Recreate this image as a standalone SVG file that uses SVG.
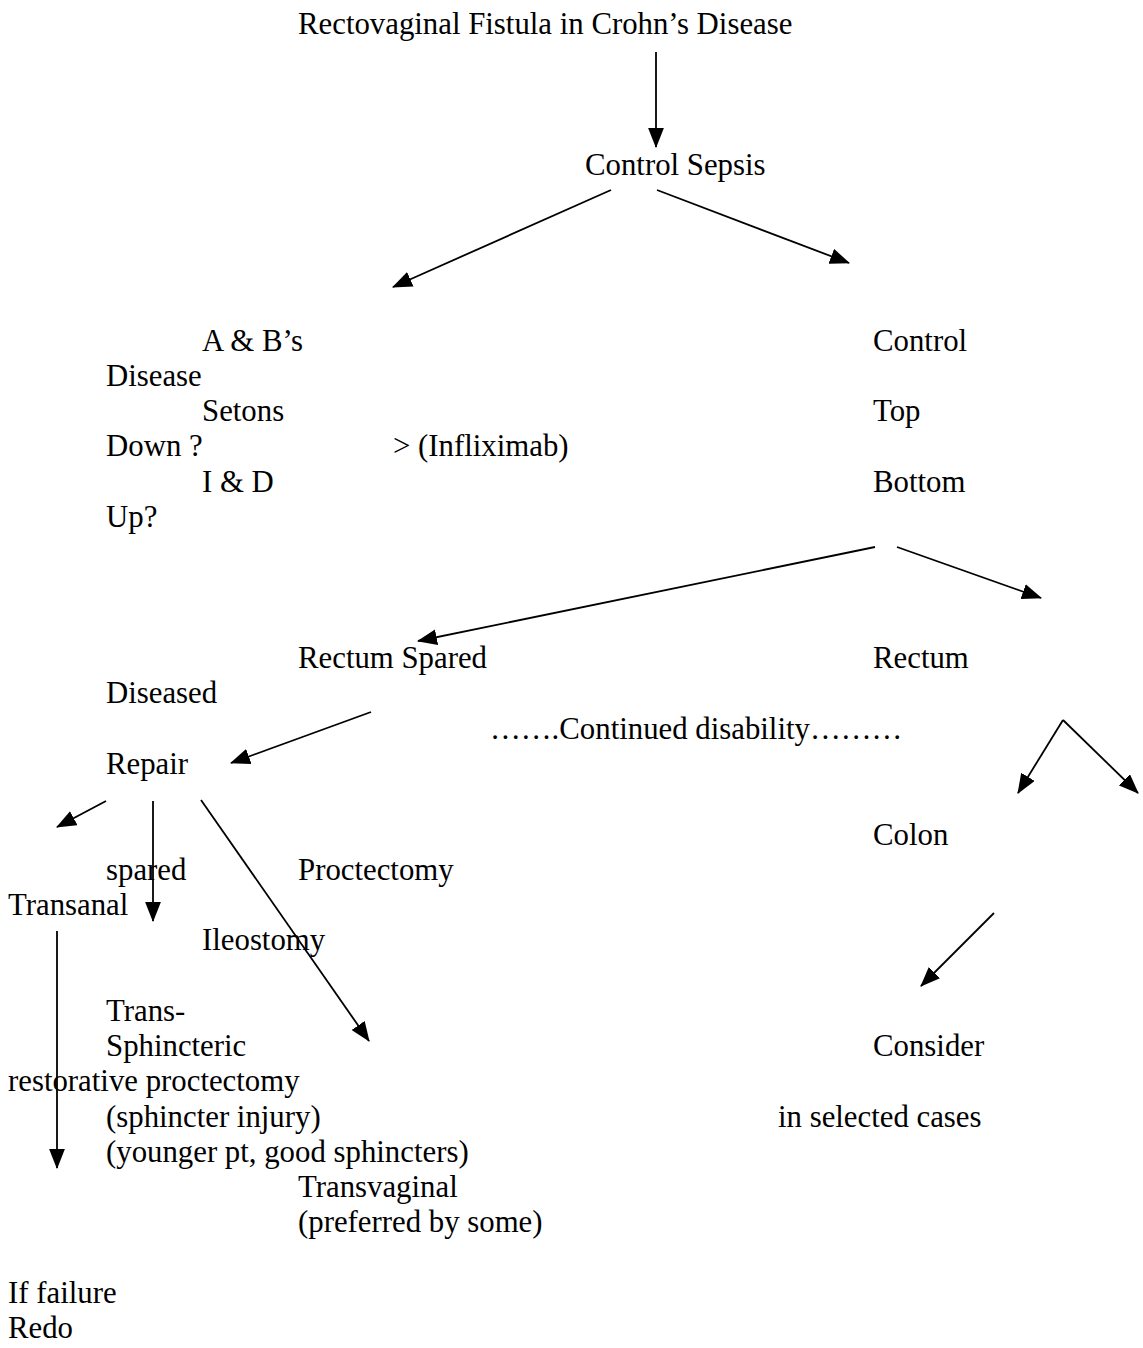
<svg xmlns="http://www.w3.org/2000/svg" width="1143" height="1348" viewBox="0 0 1143 1348">
<style>
text{font-family:"Liberation Serif","Times New Roman",serif;font-size:30.8px;fill:#000}
.c line{stroke:#000;stroke-width:1.8;fill:none;marker-end:url(#ah)}
</style>
<defs>
<marker id="ah" markerUnits="userSpaceOnUse" markerWidth="20" markerHeight="16" refX="18" refY="7.5" orient="auto" viewBox="0 0 19 15">
<path d="M0,0 L19,7.5 L0,15 z" fill="#000"/>
</marker>
</defs>
<rect width="1143" height="1348" fill="#fff"/>
<g id="n-title"><text x="298" y="34">Rectovaginal Fistula in Crohn’s Disease</text></g>
<g id="n-control-sepsis"><text x="585" y="175">Control Sepsis</text></g>
<g id="n-ab"><text x="202" y="351">A &amp; B’s</text><text x="106" y="386">Disease</text><text x="202" y="421">Setons</text><text x="106" y="456">Down ?</text><text x="393" y="456">&gt; (Infliximab)</text><text x="202" y="492">I &amp; D</text><text x="106" y="527">Up?</text></g>
<g id="n-control"><text x="873" y="351">Control</text><text x="873" y="421">Top</text><text x="873" y="492">Bottom</text></g>
<g id="n-rectum-spared"><text x="298" y="668">Rectum Spared</text></g>
<g id="n-rectum"><text x="873" y="668">Rectum</text></g>
<g id="n-diseased"><text x="106" y="703">Diseased</text></g>
<g id="n-continued"><text x="490" y="739">…….Continued disability………</text></g>
<g id="n-repair"><text x="106" y="774">Repair</text></g>
<g id="n-colon"><text x="873" y="845">Colon</text></g>
<g id="n-spared"><text x="106" y="880">spared</text></g>
<g id="n-proctectomy"><text x="298" y="880">Proctectomy</text></g>
<g id="n-transanal"><text x="8" y="915">Transanal</text></g>
<g id="n-ileostomy"><text x="202" y="950">Ileostomy</text></g>
<g id="n-trans-sphincteric"><text x="106" y="1021">Trans-</text><text x="106" y="1056">Sphincteric</text></g>
<g id="n-consider"><text x="873" y="1056">Consider</text></g>
<g id="n-restorative"><text x="8" y="1091">restorative proctectomy</text></g>
<g id="n-sphincter-injury"><text x="106" y="1127">(sphincter injury)</text></g>
<g id="n-selected"><text x="778" y="1127">in selected cases</text></g>
<g id="n-younger"><text x="106" y="1162">(younger pt, good sphincters)</text></g>
<g id="n-transvaginal"><text x="298" y="1197">Transvaginal</text><text x="298" y="1232">(preferred by some)</text></g>
<g id="n-failure"><text x="8" y="1303">If failure</text><text x="8" y="1338">Redo</text></g>
<g id="connectors" class="c">
<line x1="656" y1="52" x2="656" y2="147"/>
<line x1="611" y1="190" x2="393" y2="287"/>
<line x1="657" y1="190" x2="849" y2="263"/>
<line x1="875" y1="547" x2="418" y2="641"/>
<line x1="897" y1="547" x2="1041" y2="598"/>
<line x1="371" y1="712" x2="231" y2="763"/>
<line x1="1063" y1="720" x2="1018" y2="793"/>
<line x1="1063" y1="720" x2="1138" y2="793"/>
<line x1="106" y1="801" x2="57" y2="827"/>
<line x1="153" y1="801" x2="153" y2="921"/>
<line x1="201" y1="800" x2="369" y2="1041"/>
<line x1="994" y1="913" x2="921" y2="986"/>
<line x1="57" y1="931" x2="57" y2="1168"/>
</g>
</svg>
